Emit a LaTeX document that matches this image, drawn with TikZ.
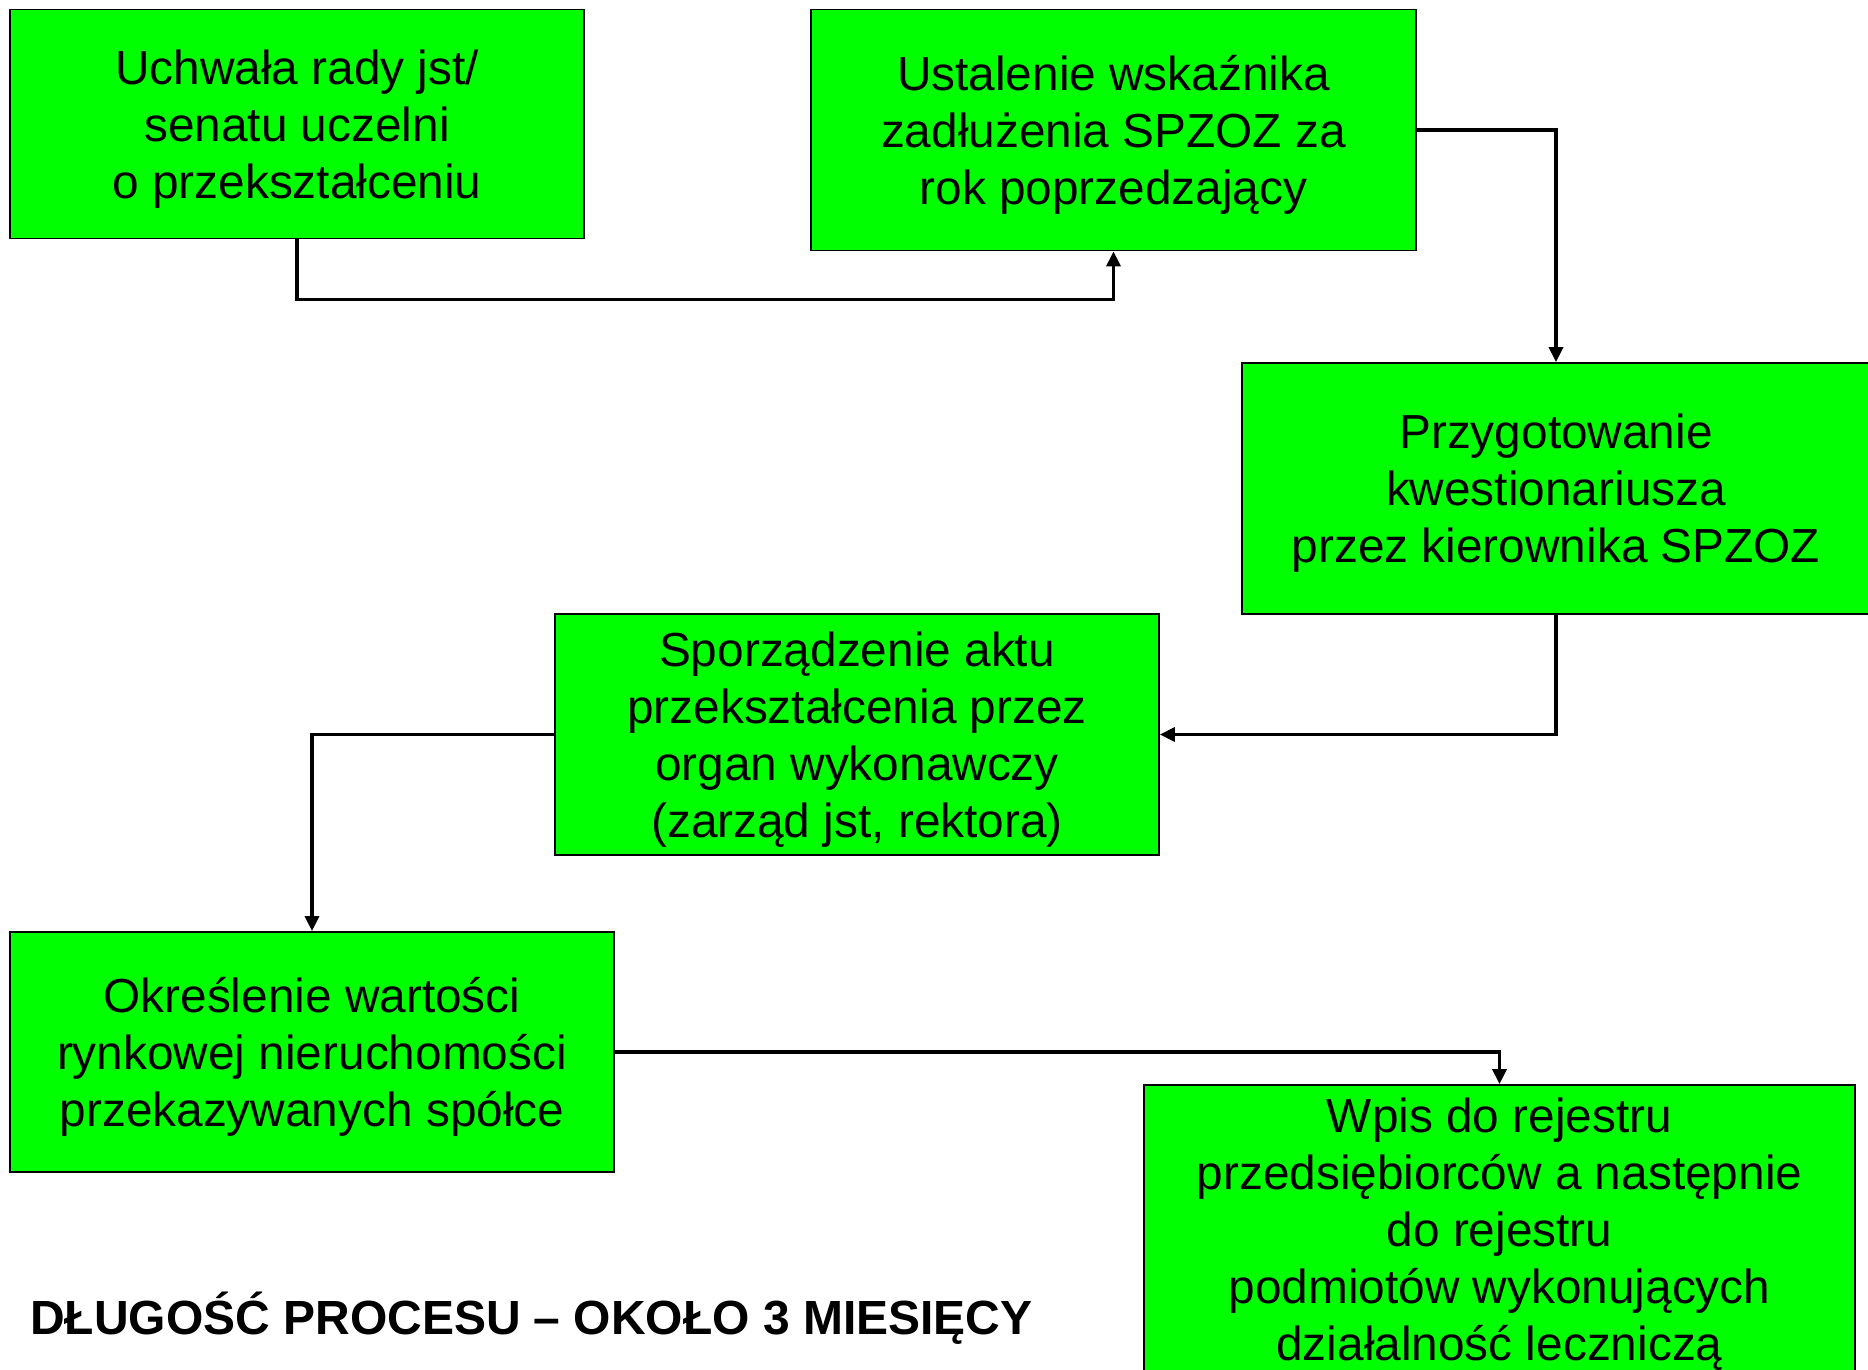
\documentclass[tikz,border=0pt]{standalone}
\usepackage{fontspec}
\setmainfont{Liberation Sans}
\usetikzlibrary{arrows.meta}
\definecolor{G}{RGB}{0, 255, 0}

\tikzset{
  krok/.style={draw=black, line width=1.1pt, fill=G, rectangle, inner sep=0pt,
    align=center, font=\fontsize{27.2pt}{32.4pt}\selectfont},
  conn/.style={black, line width=1.9pt, -{Triangle[length=8.5pt,width=8pt]}}
}
% podniesienie pierwszego wiersza, zeby tekst siedzial nizej w ramce
\newcommand{\pierwszy}{\rule{0pt}{0.93em}}

\begin{document}
\begin{tikzpicture}[x=0.02cm, y=-0.02cm]
  \useasboundingbox (0,0) rectangle (1868,1369);
  \node[krok, minimum width=11.5cm, minimum height=4.58cm] (uchwala) at (297,124)
    {\pierwszy Uchwała rady jst/\\senatu uczelni\\o przekształceniu};
  \node[krok, minimum width=12.1cm, minimum height=4.82cm] (wskaznik) at (1113.5,130)
    {\pierwszy Ustalenie wskaźnika\\zadłużenia SPZOZ za\\rok poprzedzający};
  \node[krok, minimum width=12.56cm, minimum height=5.02cm] (kwest) at (1556,488.5)
    {\pierwszy Przygotowanie\\kwestionariusza\\przez kierownika SPZOZ};
  \node[krok, minimum width=12.08cm, minimum height=4.82cm] (akt) at (857,734.5)
    {\pierwszy Sporządzenie aktu\\przekształcenia przez\\organ wykonawczy\\(zarząd jst, rektora)};
  \node[krok, minimum width=12.1cm, minimum height=4.8cm] (wycena) at (312,1052)
    {\pierwszy Określenie wartości\\rynkowej nieruchomości\\przekazywanych spółce};
  \node[krok, minimum width=14.22cm, minimum height=5.96cm] (wpis) at (1499.5,1234)
    {Wpis do rejestru\\przedsiębiorców a następnie\\do rejestru\\podmiotów wykonujących\\działalność leczniczą};

  \node[anchor=base west, inner sep=0pt, font=\fontsize{27.3pt}{32.4pt}\selectfont\bfseries] (czas) at (30,1334)
    {DŁUGOŚĆ PROCESU – OKOŁO 3 MIESIĘCY};

  \draw[conn] (uchwala.south) -- ++(0,60) -| (wskaznik.south);
  \draw[conn] (wskaznik.east) -| (kwest.north);
  \draw[conn] (kwest.south) |- (akt.east);
  \draw[conn] (akt.west) -| (wycena.north);
  \draw[conn] (wycena.east) -| (wpis.north);
\end{tikzpicture}
\end{document}
